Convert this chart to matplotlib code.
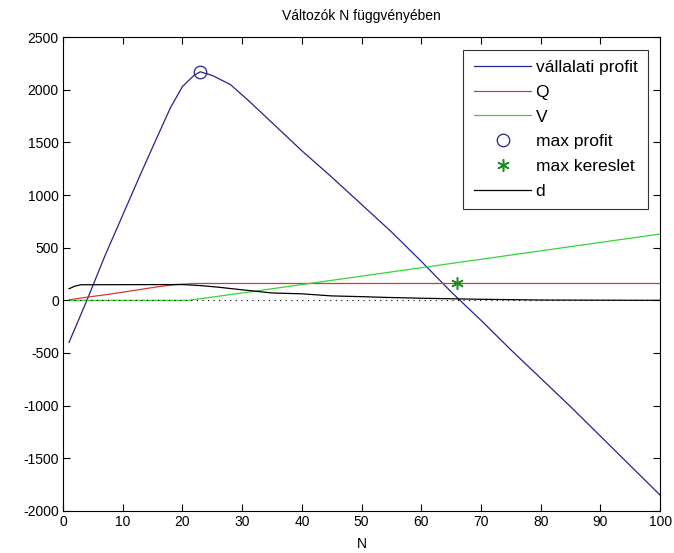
import matplotlib
matplotlib.use("Agg")
import matplotlib.pyplot as plt

plt.rcParams['font.family'] = ['Liberation Sans', 'DejaVu Sans']
plt.rcParams['axes.unicode_minus'] = False

# vállalati profit
N_profit = [1, 4, 7, 10, 13, 16, 18, 20, 22, 23, 25, 28, 31, 34, 37, 40,
            45, 50, 55, 60, 65, 70, 75, 80, 85, 90, 95, 100]
profit = [-400, 0, 420, 810, 1200, 1580, 1830, 2030, 2140, 2170, 2135, 2050,
          1900, 1740, 1580, 1420, 1170, 910, 650, 370, 80, -190, -470, -740,
          -1010, -1290, -1570, -1850]

# Q
N_q = [1, 4, 8, 12, 16, 19, 22, 100]
Q = [5, 30, 60, 95, 130, 150, 160, 160]

# V
N_v = [1, 21, 30, 40, 50, 60, 70, 80, 90, 100]
V = [0, 0, 70, 150, 230, 310, 390, 470, 550, 630]

# d
N_d = [1, 2, 3, 20, 23, 26, 30, 35, 40, 45, 50, 54, 60, 64, 70, 80, 100]
d = [110, 135, 148, 150, 140, 125, 100, 70, 62, 42, 35, 28, 20, 16, 10, 3, 0]

max_profit_N, max_profit = 23, 2170
max_kereslet_N, max_kereslet = 66, 160

fig = plt.figure(figsize=(6.74, 5.53), dpi=100)
ax = fig.add_axes([0.0935, 0.076, 0.886, 0.857])

ax.plot(N_profit, profit, color='#24248a', lw=0.9, label='vállalati profit')
ax.plot(N_q, Q, color='#d03a3a', lw=0.9, label='Q')
ax.plot(N_v, V, color='#33d633', lw=0.9, label='V')
ax.plot([max_profit_N], [max_profit], 'o', mfc='none', mec='#24248a',
        ms=9, mew=0.9, label='max profit')
# asterisk marker, six spokes
ax.plot([max_kereslet_N], [max_kereslet], marker=(6, 2, 0), ls='none',
        color='#1f8a1f', ms=9, mew=1.1, label='max kereslet')
ax.plot(N_d, d, color='black', lw=0.9, label='d')
ax.plot([0, 100], [0, 0], color='black', lw=0.8, ls=(0, (1, 4)))

ax.set_xlim(0, 100)
ax.set_ylim(-2000, 2500)
ax.set_xticks(range(0, 101, 10))
ax.set_yticks(range(-2000, 2501, 500))
ax.tick_params(direction='in', length=5, width=0.8, top=True, right=True,
               labelsize=10, pad=3)
for s in ax.spines.values():
    s.set_linewidth(0.8)

ax.set_title('Változók N függvényében', fontsize=10, pad=12)
ax.set_xlabel('N', fontsize=10, labelpad=6)

leg = ax.legend(loc='upper right', fontsize=12.5, frameon=True, fancybox=False,
                edgecolor='black', borderaxespad=0.72, handlelength=3.3,
                handletextpad=0.25, labelspacing=0.55, borderpad=0.6)
leg.get_frame().set_linewidth(0.8)

fig.savefig('out.png', dpi=100)
